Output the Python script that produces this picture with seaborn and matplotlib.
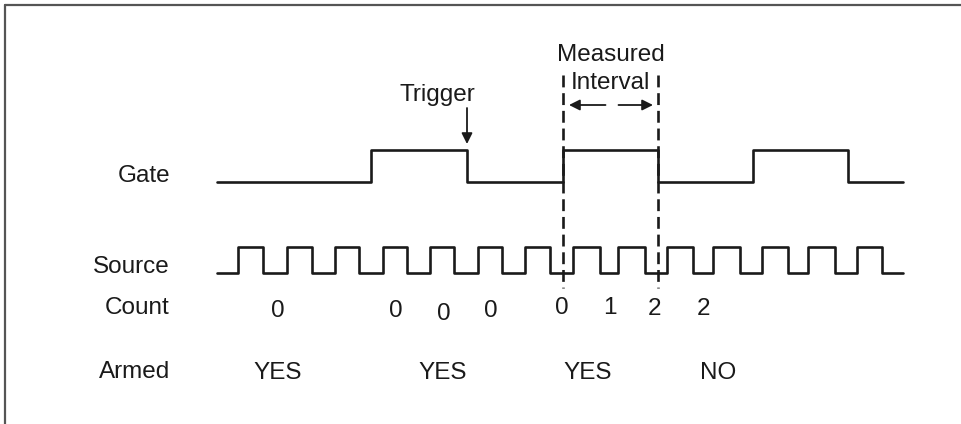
import numpy as np
import pandas as pd
import matplotlib
matplotlib.use("Agg")
import matplotlib.pyplot as plt
import seaborn as sns

# signal edges (x in pixels of the original diagram)
gate_x = [217, 371, 467, 563, 658, 753, 848, 903]
gate_level = [0, 1, 0, 1, 0, 1, 0, 0]

source_start = 217
source_end = 903
source_rise = [238, 287, 335, 383, 430, 478, 525, 573, 618, 667, 713, 762, 808, 857]
source_fall = [263, 312, 359, 407, 454, 502, 550, 600, 645, 693, 740, 788, 835, 882]

count_x = [278, 396, 444, 491, 562, 610, 655, 704]
count_vals = ["0", "0", "0", "0", "0", "1", "2", "2"]
count_dy = [0, 0, 3, 0, -3, -3, -2, -2]

armed_x = [278, 443, 588, 718]
armed_vals = ["YES", "YES", "YES", "NO"]

row_names = ["Gate", "Source", "Count", "Armed"]
row_y = [176, 267, 308, 372]

interval_x = [563, 658]
trigger_x = 467

sns.set_theme(style="white")
plt.rcParams["font.family"] = ["Liberation Sans", "DejaVu Sans"]

fig = plt.figure(figsize=(9.62, 4.24), dpi=100)
ax = fig.add_axes([0, 0, 1, 1])
ax.set_xlim(0, 962)
ax.set_ylim(424, 0)
ax.axis("off")

lw = 1.9
col = "#1a1a1a"
fs = 17.5

# Gate waveform
gate_low, gate_high = 182, 150
gate_df = pd.DataFrame({"x": gate_x,
                        "y": [gate_high if v else gate_low for v in gate_level]})
sns.lineplot(data=gate_df, x="x", y="y", ax=ax, drawstyle="steps-post",
             estimator=None, sort=False, color=col, linewidth=lw)

# Source clock
src_low, src_high = 273, 247
sx = [source_start]
sl = [0]
for r, f in zip(source_rise, source_fall):
    sx += [r, f]
    sl += [1, 0]
sx.append(source_end)
sl.append(0)
src_df = pd.DataFrame({"x": sx, "y": [src_high if v else src_low for v in sl]})
sns.lineplot(data=src_df, x="x", y="y", ax=ax, drawstyle="steps-post",
             estimator=None, sort=False, color=col, linewidth=lw)

# measured interval dashed lines
for xv in interval_x:
    ax.plot([xv, xv], [75, 288], color=col, linewidth=lw, linestyle=(0, (4.5, 2.2)))

# row labels
for name, yv in zip(row_names, row_y):
    ax.text(170, yv, name, ha="right", va="center", fontsize=fs, color=col)

for xv, v, dy in zip(count_x, count_vals, count_dy):
    ax.text(xv, 311 + dy, v, ha="center", va="center", fontsize=fs, color=col)

for xv, v in zip(armed_x, armed_vals):
    ax.text(xv, 373, v, ha="center", va="center", fontsize=fs, color=col)

# trigger annotation
ax.text(437, 95, "Trigger", ha="center", va="center", fontsize=fs, color=col)
ax.annotate("", xy=(trigger_x, 144), xytext=(trigger_x, 108),
            arrowprops=dict(arrowstyle="-|>", color=col, lw=1.3,
                            mutation_scale=16, shrinkA=0, shrinkB=0))

# measured interval annotation
mid = sum(interval_x) / 2
ax.text(mid, 55, "Measured", ha="center", va="center", fontsize=fs, color=col)
ax.text(mid, 83, "Interval", ha="center", va="center", fontsize=fs, color=col)
ax.annotate("", xy=(interval_x[0] + 6, 105), xytext=(mid - 5, 105),
            arrowprops=dict(arrowstyle="-|>", color=col, lw=1.3,
                            mutation_scale=16, shrinkA=0, shrinkB=0))
ax.annotate("", xy=(interval_x[1] - 5, 105), xytext=(mid + 8, 105),
            arrowprops=dict(arrowstyle="-|>", color=col, lw=1.3,
                            mutation_scale=16, shrinkA=0, shrinkB=0))

# frame lines (top and left)
ax.plot([5, 962], [5, 5], color="#555555", linewidth=1.6)
ax.plot([5, 5], [5, 424], color="#555555", linewidth=1.6)

fig.savefig("out.png", dpi=100)
